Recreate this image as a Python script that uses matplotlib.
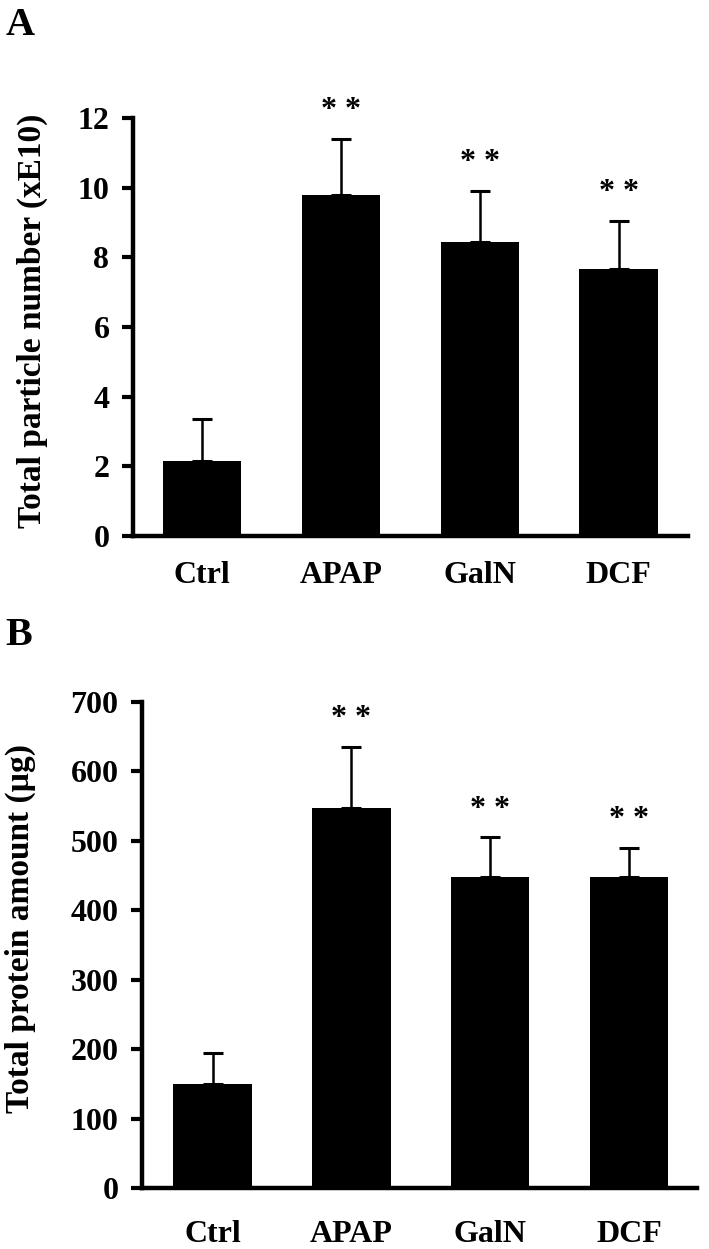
import matplotlib

matplotlib.use("Agg")
import matplotlib.pyplot as plt

GROUPS = ["Ctrl", "APAP", "GalN", "DCF"]

PARTICLE_MEAN = [2.15, 9.8, 8.45, 7.67]
PARTICLE_SD = [1.2, 1.6, 1.45, 1.38]
PARTICLE_TICKS = [0, 2, 4, 6, 8, 10, 12]

PROTEIN_MEAN = [150, 548, 448, 448]
PROTEIN_SD = [45, 87, 57, 42]
PROTEIN_TICKS = [0, 100, 200, 300, 400, 500, 600, 700]

SIG_LABELS = ["", "* *", "* *", "* *"]

plt.rcParams.update(
    {
        "font.family": ["Liberation Serif", "DejaVu Serif"],
        "font.weight": "bold",
        "axes.labelweight": "bold",
    }
)


def draw_panel(ax, means, sds, ticks, ylabel, xlim, label_xy, xpad):
    xs = range(len(GROUPS))
    ax.bar(xs, means, width=0.565, color="black", zorder=2)
    ax.errorbar(
        xs,
        means,
        yerr=[[0] * len(sds), sds],
        fmt="none",
        ecolor="black",
        elinewidth=1.8,
        capsize=7,
        capthick=2.2,
        zorder=1,
    )
    for x, m, s, lab in zip(xs, means, sds, SIG_LABELS):
        if lab:
            ax.annotate(lab, (x, m + s), xytext=(0, 15),
                        textcoords="offset points", ha="center",
                        va="baseline", fontsize=23)

    ax.set_xlim(*xlim)
    ax.set_ylim(ticks[0], ticks[-1])
    ax.set_yticks(ticks)
    ax.set_xticks(list(xs), GROUPS)
    ax.set_ylabel(ylabel, fontsize=24)
    ax.yaxis.set_label_coords(*label_xy)

    for side in ("top", "right"):
        ax.spines[side].set_visible(False)
    for side in ("left", "bottom"):
        ax.spines[side].set_linewidth(3.2)
    ax.tick_params(axis="y", direction="out", length=8, width=3,
                   labelsize=23, pad=9)
    ax.tick_params(axis="x", length=0, labelsize=23, pad=xpad)


fig = plt.figure(figsize=(7.09, 12.49), dpi=100)

ax_a = fig.add_axes([0.1876, 0.5709, 0.7828, 0.3347])
draw_panel(ax_a, PARTICLE_MEAN, PARTICLE_SD, PARTICLE_TICKS,
           "Total particle number (xE10)", (-0.497, 3.50), (-0.153, 0.514), 18)

ax_b = fig.add_axes([0.2003, 0.0488, 0.7828, 0.3891])
draw_panel(ax_b, PROTEIN_MEAN, PROTEIN_SD, PROTEIN_TICKS,
           "Total protein amount (\u00b5g)", (-0.508, 3.49), (-0.191, 0.535), 23)

fig.text(0.008, 0.972, "A", fontsize=29, va="baseline", ha="left")
fig.text(0.008, 0.4836, "B", fontsize=29, va="baseline", ha="left")

fig.savefig("out.png", dpi=100)
